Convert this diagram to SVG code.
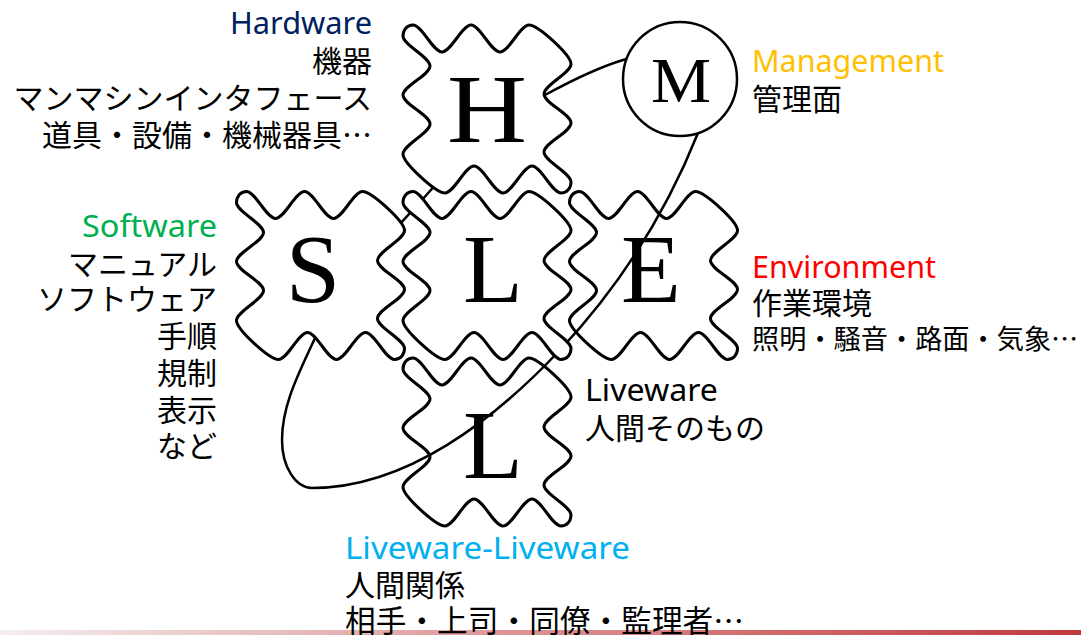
<svg xmlns="http://www.w3.org/2000/svg" xmlns:xlink="http://www.w3.org/1999/xlink" width="1081" height="635" viewBox="0 0 1081 635">
<style>
.tile{fill:#fff;stroke:#000;stroke-width:3;stroke-linejoin:round}
.big{font-family:"Liberation Serif","Times New Roman",serif;font-size:98px;fill:#000;text-anchor:middle}
.lat{font-family:"Noto Sans","Noto Sans CJK JP",sans-serif;font-size:30px}
.jp{font-family:"Noto Sans CJK JP",sans-serif;font-size:30px;fill:#000}
.end{text-anchor:end}
.conn{fill:none;stroke:#000;stroke-width:2.5}
</style>
<defs>
<path id="tile" class="tile" d="M-84,-73 C-84,-79 -80,-84 -74,-84 C-65,-84 -54,-57 -45,-57 C-36,-57 -25,-84 -16,-84 C-7,-84 4,-57 13,-57 C22,-57 33,-84 42,-84 C51,-84 84,-54 84,-45 C84,-36 57,-24 57,-15 C57,-6 84,5 84,14 C84,23 57,34 57,43 C57,52 84,64 84,73 C84,79 80,84 74,84 C65,84 54,57 45,57 C36,57 25,84 16,84 C7,84 -4,57 -13,57 C-22,57 -33,84 -42,84 C-51,84 -84,54 -84,45 C-84,36 -57,24 -57,15 C-57,6 -84,-5 -84,-14 C-84,-23 -57,-34 -57,-43 C-57,-52 -84,-64 -84,-73 Z"/>
<linearGradient id="bar" x1="0" y1="0" x2="1" y2="0">
<stop offset="0" stop-color="#f4eeee"/>
<stop offset="0.5" stop-color="#db8f90"/>
<stop offset="1" stop-color="#c0383c"/>
</linearGradient>
</defs>
<rect x="0" y="0" width="1081" height="635" fill="#fff"/>
<rect x="0" y="630" width="1081" height="5" fill="url(#bar)"/>

<g id="tile-E">
<use xlink:href="#tile" href="#tile" transform="translate(653.5,275.5)"/>
<text class="big" x="651" y="302">E</text>
</g>
<g id="tile-L-bottom">
<use xlink:href="#tile" href="#tile" transform="translate(487,442)"/>
<text class="big" x="493" y="478">L</text>
</g>

<g id="connectors">
<path class="conn" d="M698,133 C666,213 619,287 560,350 C495,419 407,488 312,488 C295.4,488 282,466.5 282,440 C282,404 300,371 315,338 C343,278 394,233 437,183 C467,148 504,116 545,95 C568,82.5 598,67.5 623,60 C649,52 690,48 705,50 C725,53 709,105 698,133 Z"/>
</g>

<g id="tile-H">
<use xlink:href="#tile" href="#tile" transform="translate(487,109)"/>
<text class="big" x="487" y="142" textLength="80" lengthAdjust="spacingAndGlyphs">H</text>
</g>
<g id="tile-S">
<use xlink:href="#tile" href="#tile" transform="translate(320.5,275.5)"/>
<text class="big" x="313" y="302">S</text>
</g>
<g id="tile-L">
<use xlink:href="#tile" href="#tile" transform="translate(487,275.5)"/>
<text class="big" x="493" y="302">L</text>
</g>

<g id="node-M">
<circle cx="680" cy="79" r="57" fill="#fff" stroke="#000" stroke-width="2.5"/>
<text x="681" y="102" font-family="Liberation Serif,Times New Roman,serif" font-size="64" text-anchor="middle" fill="#000" textLength="60" lengthAdjust="spacingAndGlyphs">M</text>
</g>

<g id="label-hardware">
<text class="lat end" x="372" y="34" fill="#002060" textLength="142" lengthAdjust="spacingAndGlyphs">Hardware</text>
<text class="jp end" x="372" y="72">機器</text>
<text class="jp end" x="372" y="109">マンマシンインタフェース</text>
<text class="jp end" x="372" y="146">道具・設備・機械器具…</text>
</g>
<g id="label-software">
<text class="lat end" x="217" y="237" fill="#00b050" textLength="135" lengthAdjust="spacingAndGlyphs">Software</text>
<text class="jp end" x="217" y="275">マニュアル</text>
<text class="jp end" x="217" y="310">ソフトウェア</text>
<text class="jp end" x="217" y="347">手順</text>
<text class="jp end" x="217" y="384">規制</text>
<text class="jp end" x="217" y="421">表示</text>
<text class="jp end" x="217" y="457">など</text>
</g>
<g id="label-management">
<text class="lat" x="752" y="72" fill="#ffc000" textLength="192" lengthAdjust="spacingAndGlyphs">Management</text>
<text class="jp" x="752" y="110">管理面</text>
</g>
<g id="label-environment">
<text class="lat" x="752" y="278" fill="#ff0000" textLength="184" lengthAdjust="spacingAndGlyphs">Environment</text>
<text class="jp" x="752" y="314">作業環境</text>
<text class="jp" x="752" y="349" style="font-size:27.2px">照明・騒音・路面・気象…</text>
</g>
<g id="label-liveware">
<text class="lat" x="585" y="401" fill="#000" textLength="133" lengthAdjust="spacingAndGlyphs">Liveware</text>
<text class="jp" x="585" y="439">人間そのもの</text>
</g>
<g id="label-liveware-liveware">
<text class="lat" x="345" y="559" fill="#00b0f0" textLength="285" lengthAdjust="spacingAndGlyphs">Liveware-Liveware</text>
<text class="jp" x="345" y="596">人間関係</text>
<text class="jp" x="345" y="632" style="font-size:30.7px">相手・上司・同僚・監理者…</text>
</g>
</svg>
